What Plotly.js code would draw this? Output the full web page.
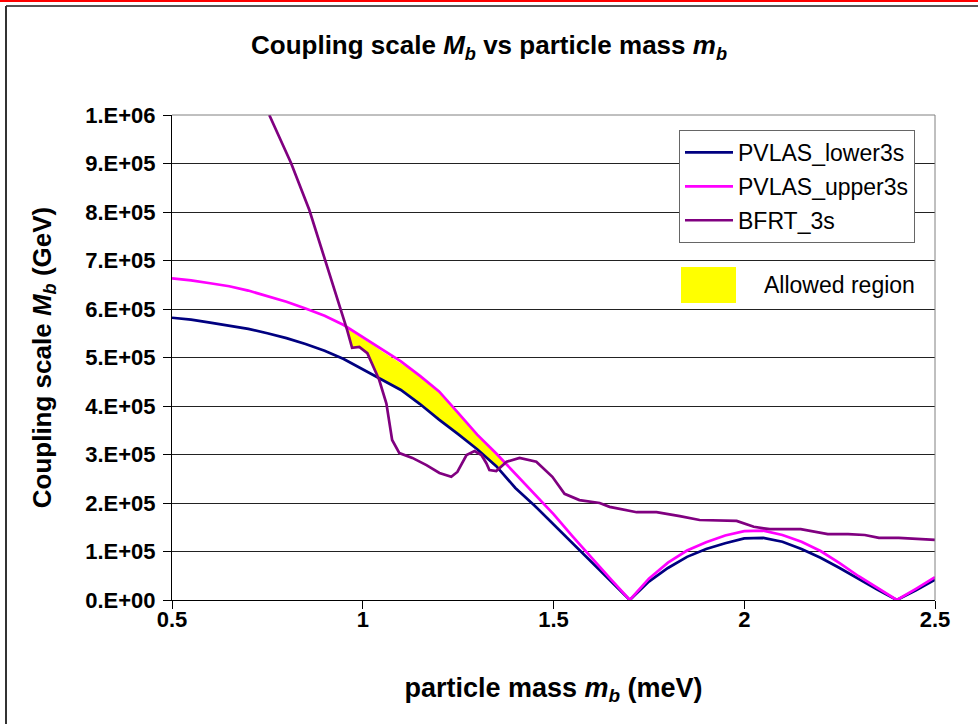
<!DOCTYPE html>
<html><head><meta charset="utf-8">
<script src="https://cdn.plot.ly/plotly-3.0.1.min.js"></script>
<style>html,body{margin:0;padding:0;background:#fff}#chart{width:978px;height:724px}</style>
</head><body><div id="chart"></div>
<script>
// particle mass (meV) grid shared by the two PVLAS curves
const massX = [0.50,0.55,0.60,0.65,0.70,0.75,0.80,0.85,0.90,0.95,1.00,1.05,1.10,1.15,1.20,1.25,1.30,1.35,1.40,1.45,1.50,1.55,1.60,1.65,1.70,1.75,1.80,1.85,1.90,1.95,2.00,2.05,2.10,2.15,2.20,2.25,2.30,2.35,2.40,2.45,2.50];
const pvlasLower = [582000,578000,572000,566000,559000,550000,540000,528000,514000,497000,476000,455000,433000,404000,372000,342000,311000,276000,231000,195000,156000,117000,78000,39000,0,38000,66000,89000,105000,117000,127000,128000,120000,105000,87000,66000,43000,21000,0,20000,42000];
const pvlasUpper = [663000,659000,653000,647000,638000,627000,615000,601000,586000,567000,542000,516000,492000,462000,430000,386000,341000,302000,261000,220000,177000,131000,86000,43000,0,44000,77000,102000,119000,133000,142000,143000,134000,120000,101000,76000,49000,24000,0,23000,47000];
const bfrtX = [0.755,0.812,0.860,0.904,0.944,0.959,0.972,0.991,1.012,1.043,1.062,1.077,1.096,1.130,1.167,1.201,1.232,1.248,1.272,1.293,1.311,1.324,1.332,1.350,1.377,1.411,1.455,1.497,1.529,1.568,1.621,1.647,1.718,1.770,1.831,1.883,1.980,2.025,2.067,2.148,2.219,2.272,2.316,2.353,2.405,2.442,2.500];
const bfrtY = [1000000,901000,804000,695000,592000,557000,520000,522000,509000,454000,405000,330000,303000,293000,278000,262000,254000,264000,299000,307000,299000,282000,268000,266000,285000,293000,285000,254000,219000,206000,200000,192000,181000,181000,173000,165000,163000,151000,146000,146000,136000,136000,134000,128000,128000,126000,124000];
// allowed region boundaries
const regionX = [0.962,0.972,0.990,1.010,1.030,1.048,1.080,1.120,1.160,1.200,1.240,1.280,1.320,1.340,1.355,1.370];
const regionTop = [558000,553000,545000,535000,524000,514000,498000,478000,454000,430000,396000,357000,324000,310000,299000,286000];
const regionBottom = [558000,520000,522000,510000,476000,456000,440000,424000,398000,372000,348000,324000,294000,280000,272000,284000];
const yTickVals = [0,100000,200000,300000,400000,500000,600000,700000,800000,900000,1000000];
const yTickText = ['0.E+00','1.E+05','2.E+05','3.E+05','4.E+05','5.E+05','6.E+05','7.E+05','8.E+05','9.E+05','1.E+06'];
const xTickVals = [0.5,1,1.5,2,2.5];
const xTickText = ['0.5','1','1.5','2','2.5'];
const seriesNames = ['PVLAS_lower3s','PVLAS_upper3s','BFRT_3s'];
const regionLabel = 'Allowed region';

const FONT = 'Liberation Sans, Arial, sans-serif';
const pxX = p => (p - 172) / 763;
const pxY = p => (600 - p) / 485;

const traces = [
  {x: regionX.concat(regionX.slice().reverse()), y: regionTop.concat(regionBottom.slice().reverse()),
   mode:'lines', fill:'toself', fillcolor:'#FFFF00', line:{width:0, color:'#FFFF00'}, showlegend:false, hoverinfo:'skip'},
  {x: massX, y: pvlasLower, name: seriesNames[0], mode:'lines', line:{color:'#000080', width:2.7}, legendgroup:'a'},
  {x: massX, y: pvlasUpper, name: seriesNames[1], mode:'lines', line:{color:'#FF00FF', width:2.7}, legendgroup:'b'},
  {x: bfrtX, y: bfrtY, name: seriesNames[2], mode:'lines', line:{color:'#800080', width:2.7}, legendgroup:'c'}
];

const layout = {
  width: 978, height: 724,
  margin: {l:172, r:43, t:115, b:124},
  paper_bgcolor:'#fff', plot_bgcolor:'#fff',
  font: {family: FONT, color:'#000'},
  title: {text:'<b>Coupling scale <i>M<sub>b</sub></i> vs particle mass <i>m<sub>b</sub></i></b>',
          font:{size:26, family:FONT, color:'#000'}, x:0.5, xref:'container', xanchor:'center', y:1-45/724, yref:'container', yanchor:'middle'},
  xaxis: {range:[0.5,2.5], tickvals:xTickVals, ticktext:xTickText, ticks:'outside', ticklen:8, tickcolor:'#000', tickwidth:1,
          showline:true, linecolor:'#000', linewidth:1, showgrid:false, zeroline:false, ticklabelstandoff:-8,
          tickfont:{size:22, family:FONT, weight:'bold', color:'#000'},
          title:{text:'<b>particle mass <i>m<sub>b</sub></i> (meV)</b>', font:{size:27, family:FONT, color:'#000'}, standoff:46}},
  yaxis: {range:[0,1000000], tickvals:yTickVals, ticktext:yTickText, ticks:'outside', ticklen:8, tickcolor:'#000', tickwidth:1,
          showline:true, linecolor:'#000', linewidth:1, showgrid:true, gridcolor:'#222', gridwidth:1, zeroline:false,
          ticklabelstandoff:3,
          tickfont:{size:22, family:FONT, weight:'bold', color:'#000'},
          title:{text:'<b>Coupling scale <i>M<sub>b</sub></i> (GeV)</b>', font:{size:26, family:FONT, color:'#000'}, standoff:26}},
  legend: {x:pxX(679), y:pxY(130), xanchor:'left', yanchor:'top', bordercolor:'#666', borderwidth:1, bgcolor:'#fff',
           font:{size:23, family:FONT, color:'#000'}, traceorder:'grouped', tracegroupgap:1, itemwidth:48},
  shapes: [
    {type:'line', xref:'paper', yref:'paper', x0:0, x1:1, y0:1, y1:1, line:{color:'#808080', width:1}},
    {type:'line', xref:'paper', yref:'paper', x0:1, x1:1, y0:0, y1:1, line:{color:'#808080', width:1}},
    {type:'rect', xref:'paper', yref:'paper', x0:pxX(681), x1:pxX(736), y0:pxY(303), y1:pxY(267), fillcolor:'#FFFF00', line:{width:0}},
    {type:'line', xref:'paper', yref:'paper', x0:pxX(6), x1:pxX(978), y0:pxY(6), y1:pxY(6), line:{color:'#555', width:2}},
    {type:'line', xref:'paper', yref:'paper', x0:pxX(6), x1:pxX(6), y0:pxY(6), y1:pxY(724), line:{color:'#333', width:2}},
    {type:'line', xref:'paper', yref:'paper', x0:pxX(0), x1:pxX(978), y0:pxY(1), y1:pxY(1), line:{color:'#FF0000', width:2}}
  ],
  annotations: [
    {text:regionLabel, xref:'paper', yref:'paper', x:pxX(762), y:pxY(285), xanchor:'left', yanchor:'middle', showarrow:false,
     font:{size:23, family:FONT, color:'#000'}}
  ],
  showlegend:true
};

Plotly.newPlot('chart', traces, layout, {displayModeBar:false, staticPlot:true});
</script>
</body></html>
